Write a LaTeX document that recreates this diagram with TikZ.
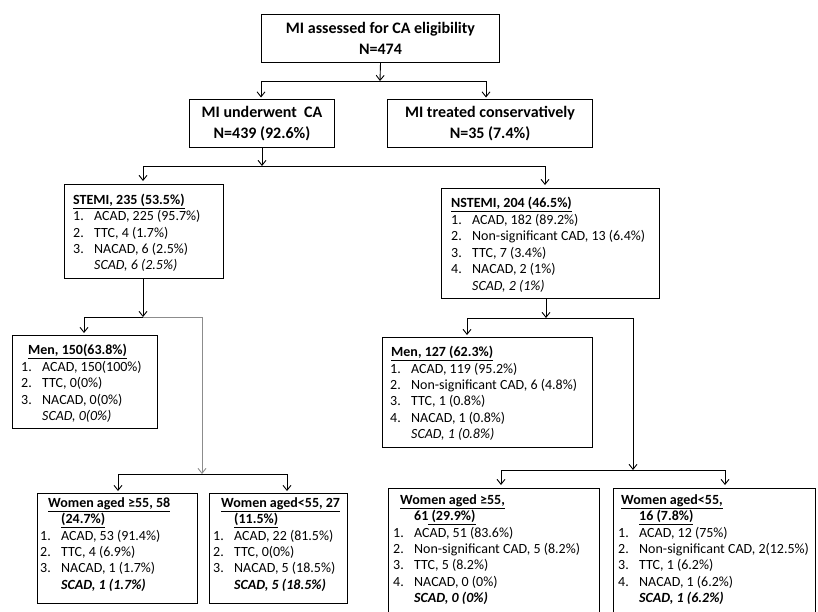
\documentclass[tikz,border=0pt]{standalone}
\usepackage{fontspec}
\setmainfont{Carlito}
\usetikzlibrary{arrows.meta,calc}
\newcommand\lit[2]{\makebox[21pt][l]{#1}#2}
\tikzset{
  box/.style={draw, line width=1pt, rectangle, inner sep=0pt, anchor=north west},
  toptxt/.style={font=\fontsize{16}{21}\selectfont\bfseries, align=center},
  lst/.style={align=left, inner sep=0pt, anchor=north west},
  arr/.style={-{Straight Barb[length=5pt,width=8pt]}, line width=0.9pt},
  bus/.style={line width=0.9pt},
  greyline/.style={line width=0.9pt, draw=black!45},
}
\begin{document}
\begin{tikzpicture}[x=1pt,y=-1pt]
\useasboundingbox (0,0) rectangle (818,611);
\clip (0,0) rectangle (818,611);
\fill[white] (0,0) rectangle (818,611);

% boxes
\node[box, toptxt, minimum width=238pt, minimum height=48pt] (top) at (261,14) {MI assessed for CA eligibility\\N=474};
\node[box, toptxt, minimum width=145pt, minimum height=48pt] (cau) at (189,99) {MI underwent~~CA\\N=439 (92.6\%)};
\node[box, toptxt, minimum width=205pt, minimum height=48pt] (cons) at (387,99) {MI treated conservatively\\N=35 (7.4\%)};

\node[box, minimum width=159pt, minimum height=94pt] (stemi) at (64,184) {};
\node[box, minimum width=218pt, minimum height=110pt] (nstemi) at (441,188) {};
\node[box, minimum width=145pt, minimum height=93pt] (men1) at (12,335) {};
\node[box, minimum width=210pt, minimum height=110pt] (men2) at (382,337) {};
\node[box, minimum width=160pt, minimum height=110pt] (w1) at (37,493) {};
\node[box, minimum width=138pt, minimum height=110pt] (w2) at (209,493) {};
\node[box, minimum width=211pt, minimum height=160pt] (w3) at (388,488) {};
\node[box, minimum width=202pt, minimum height=160pt] (w4) at (613,488) {};

% texts
\node[lst, font=\fontsize{14}{16.3}\selectfont] (tstemi) at (73,193) {\strut\underline{\textbf{STEMI, 235 (53.5\%)}}\\
\lit{1.}{ACAD, 225 (95.7\%)}\\
\lit{2.}{TTC, 4 (1.7\%)}\\
\lit{3.}{NACAD, 6 (2.5\%)}\\
\hspace*{21pt}\textit{SCAD, 6 (2.5\%)}};

\node[lst, font=\fontsize{14}{16.5}\selectfont] (tnstemi) at (451,196) {\strut\underline{\textbf{NSTEMI, 204 (46.5\%)}}\\
\lit{1.}{ACAD, 182 (89.2\%)}\\
\lit{2.}{Non-significant CAD, 13 (6.4\%)}\\
\lit{3.}{TTC, 7 (3.4\%)}\\
\lit{4.}{NACAD, 2 (1\%)}\\
\hspace*{21pt}\textit{SCAD, 2 (1\%)}};

\node[lst, font=\fontsize{14}{16.5}\selectfont] (tmen1) at (21,343) {\strut\hspace*{7pt}\underline{\textbf{Men, 150(63.8\%)}}\\
\lit{1.}{ACAD, 150(100\%)}\\
\lit{2.}{TTC, 0(0\%)}\\
\lit{3.}{NACAD, 0(0\%)}\\
\hspace*{21pt}\textit{SCAD, 0(0\%)}};

\node[lst, font=\fontsize{14}{16.4}\selectfont] (tmen2) at (390,345) {\strut\hspace*{1pt}\underline{\textbf{Men, 127 (62.3\%)}}\\
\lit{1.}{ACAD, 119 (95.2\%)}\\
\lit{2.}{Non-significant CAD, 6 (4.8\%)}\\
\lit{3.}{TTC, 1 (0.8\%)}\\
\lit{4.}{NACAD, 1 (0.8\%)}\\
\hspace*{21pt}\textit{SCAD, 1 (0.8\%)}};

\node[lst, font=\fontsize{14}{16.3}\selectfont] (tw1) at (40,496) {\strut\hspace*{8pt}\underline{\textbf{Women aged ≥55, 58}}\\
\hspace*{21pt}\underline{\textbf{(24.7\%)}}\\
\lit{1.}{ACAD, 53 (91.4\%)}\\
\lit{2.}{TTC, 4 (6.9\%)}\\
\lit{3.}{NACAD, 1 (1.7\%)}\\
\hspace*{21pt}\textbf{\textit{SCAD, 1 (1.7\%)}}};

\node[lst, font=\fontsize{14}{16.3}\selectfont] (tw2) at (213,496) {\strut\hspace*{8pt}\underline{\textbf{Women aged<55, 27}}\\
\hspace*{21pt}\underline{\textbf{(11.5\%)}}\\
\lit{1.}{ACAD, 22 (81.5\%)}\\
\lit{2.}{TTC, 0(0\%)}\\
\lit{3.}{NACAD, 5 (18.5\%)}\\
\hspace*{21pt}\textbf{\textit{SCAD, 5 (18.5\%)}}};

\node[lst, font=\fontsize{14}{16.3}\selectfont] (tw3) at (393,493) {\strut\hspace*{7pt}\underline{\textbf{Women aged ≥55,}}\\
\hspace*{21pt}\textbf{61\underline{ (29.9\%)}}\\
\lit{1.}{ACAD, 51 (83.6\%)}\\
\lit{2.}{Non-significant CAD, 5 (8.2\%)}\\
\lit{3.}{TTC, 5 (8.2\%)}\\
\lit{4.}{NACAD, 0 (0\%)}\\
\hspace*{21pt}\textbf{\textit{SCAD, 0 (0\%)}}};

\node[lst, font=\fontsize{14}{16.3}\selectfont] (tw4) at (618,493) {\strut\hspace*{3pt}\underline{\textbf{Women aged<55,}}\\
\hspace*{21pt}\underline{\textbf{16 (7.8\%)}}\\
\lit{1.}{ACAD, 12 (75\%)}\\
\lit{2.}{Non-significant CAD, 2(12.5\%)}\\
\lit{3.}{TTC, 1 (6.2\%)}\\
\lit{4.}{NACAD, 1 (6.2\%)}\\
\hspace*{21pt}\textbf{\textit{SCAD, 1 (6.2\%)}}};

% junction coordinates
\coordinate (j1) at (380,81);
\coordinate (j1l) at (261,81);
\coordinate (j1r) at (486,81);
\coordinate (j2) at (262,166);
\coordinate (j2l) at (143,166);
\coordinate (j2r) at (545,166);
\coordinate (j3) at (143,317);
\coordinate (j3l) at (84,317);
\coordinate (j3r) at (202,317);
\coordinate (j4) at (202,474);
\coordinate (j4l) at (118,474);
\coordinate (j4r) at (287,474);
\coordinate (j5) at (546,318);
\coordinate (j5l) at (467,318);
\coordinate (j5r) at (633,318);
\coordinate (j6) at (633,470);
\coordinate (j6l) at (501,470);
\coordinate (j6r) at (725,470);

% connectors
\draw[arr] (top.south) -- (j1);
\draw[bus] (j1l) -- (j1r);
\draw[arr, shorten >=1.5pt] (j1l) -- (j1l |- cau.north);
\draw[arr, shorten >=1.5pt] (j1r) -- (j1r |- cons.north);

\draw[arr] (j2 |- cau.south) -- (j2);
\draw[bus] (j2l) -- (j2r);
\draw[arr, shorten >=3pt] (j2l) -- (j2l |- stemi.north);
\draw[arr, shorten >=3pt] (j2r) -- (j2r |- nstemi.north);

\draw[arr] (j3 |- stemi.south) -- (j3);
\draw[bus] (j3l) -- (j3);
\draw[greyline] (j3) -- (j3r);
\draw[arr, shorten >=2pt] (j3l) -- (j3l |- men1.north);
\draw[greyline, arr] (j3r) -- (j4);
\draw[bus] (j4l) -- (j4r);
\draw[arr, shorten >=2pt] (j4l) -- (j4l |- w1.north);
\draw[arr, shorten >=2pt] (j4r) -- (j4r |- w2.north);

\draw[arr] (j5 |- nstemi.south) -- (j5);
\draw[bus] (j5l) -- (j5r);
\draw[arr, shorten >=2pt] (j5l) -- (j5l |- men2.north);
\draw[bus, arr] (j5r) -- (j6);
\draw[bus] (j6l) -- (j6r);
\draw[arr, shorten >=3pt] (j6l) -- (j6l |- w3.north);
\draw[arr, shorten >=3pt] (j6r) -- (j6r |- w4.north);
\end{tikzpicture}
\end{document}
